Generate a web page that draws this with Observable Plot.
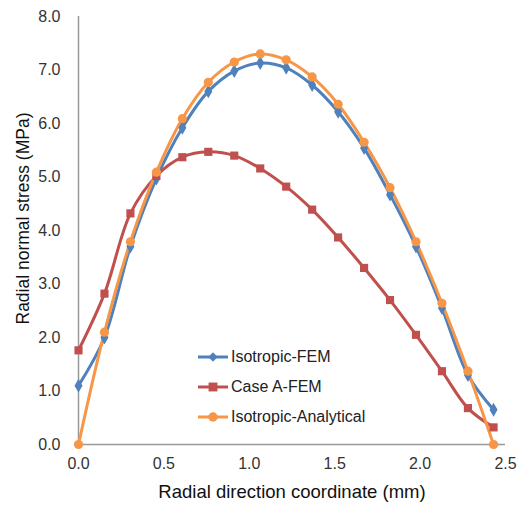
<!DOCTYPE html>
<html><head><meta charset="utf-8">
<script src="https://cdn.jsdelivr.net/npm/d3@7"></script>
<script src="https://cdn.jsdelivr.net/npm/@observablehq/plot@0.6"></script>
<style>
body{margin:0;background:#fff;font-family:"Liberation Sans",Arial,sans-serif;}
#wrap{position:relative;width:520px;height:505px;}
#legend{position:absolute;left:196px;top:342px;font-size:16px;color:#222;}
#legend .row{display:flex;align-items:center;height:30px;}
#legend svg{margin-right:1px;}
</style></head>
<body><div id="wrap"><div id="chart"></div><div id="legend"></div></div>
<script>
const xValues = [0, 0.152, 0.304, 0.456, 0.608, 0.76, 0.912, 1.064, 1.216, 1.368, 1.52, 1.672, 1.824, 1.976, 2.128, 2.28, 2.43];
const isoFEM = [1.1, 2.0, 3.7, 4.97, 5.92, 6.6, 6.98, 7.13, 7.04, 6.72, 6.22, 5.54, 4.67, 3.7, 2.55, 1.3, 0.65];
const caseA = [1.76, 2.82, 4.32, 5.02, 5.37, 5.47, 5.4, 5.16, 4.82, 4.39, 3.87, 3.3, 2.7, 2.05, 1.37, 0.68, 0.32];
const isoAna = [0, 2.1, 3.79, 5.09, 6.09, 6.77, 7.15, 7.3, 7.19, 6.87, 6.36, 5.65, 4.8, 3.79, 2.64, 1.37, 0];
const seriesNames = ["Isotropic-FEM", "Case A-FEM", "Isotropic-Analytical"];
const seriesColors = ["#4F81BD", "#C0504D", "#F79646"];
const seriesSymbols = ["diamond", "square", "circle"];
const seriesR = [4.2, 4.6, 4.6];
const xTicks = [0, 0.5, 1.0, 1.5, 2.0, 2.5];
const yTicks = [0, 1, 2, 3, 4, 5, 6, 7, 8];

const allValues = [isoFEM, caseA, isoAna];
const data = [];
allValues.forEach((vals, s) => vals.forEach((v, i) => data.push({x: xValues[i], y: v, s: seriesNames[s]})));

const lineMarks = [];
seriesNames.forEach((name, s) => {
  const d = data.filter(p => p.s === name);
  lineMarks.push(Plot.line(d, {x: "x", y: "y", stroke: seriesColors[s], strokeWidth: 3, curve: "catmull-rom"}));
});
seriesNames.forEach((name, s) => {
  const d = data.filter(p => p.s === name);
  lineMarks.push(Plot.dot(d, {x: "x", y: "y", fill: seriesColors[s], stroke: "none", symbol: () => seriesSymbols[s], r: seriesR[s]}));
});

const chart = Plot.plot({
  width: 520, height: 505,
  marginLeft: 78, marginRight: 15, marginTop: 16, marginBottom: 61,
  style: {fontFamily: "Liberation Sans, Arial, sans-serif", background: "#fff"},
  x: {domain: [0, 2.5]},
  y: {domain: [0, 8]},
  marks: [
    Plot.ruleX([0], {stroke: "#999", strokeWidth: 1.5}),
    Plot.ruleY([0], {stroke: "#999", strokeWidth: 1.5}),
    ...lineMarks,
    Plot.axisX({ticks: xTicks, tickFormat: d3.format(".1f"), tickSize: 0, tickPadding: 13, fontSize: 16, fill: "#333",
      label: "Radial direction coordinate (mm)", labelAnchor: "center", labelOffset: 53, labelArrow: false}),
    Plot.axisY({ticks: yTicks, tickFormat: d3.format(".1f"), tickSize: 0, tickPadding: 18, fontSize: 16, fill: "#333",
      label: "Radial normal stress (MPa)", labelAnchor: "center", labelOffset: 62, labelArrow: false})
  ]
});
document.getElementById("chart").appendChild(chart);
chart.querySelectorAll("g[aria-label='x-axis label'] text").forEach(t => {
  t.setAttribute("font-size", "18.5"); t.style.fill = "#111";
});
chart.querySelectorAll("g[aria-label='y-axis label'] text").forEach(t => {
  t.setAttribute("font-size", "17.5"); t.setAttribute("dx", "12"); t.style.fill = "#111";
});

const legend = document.getElementById("legend");
seriesNames.forEach((name, s) => {
  const row = document.createElement("div");
  row.className = "row";
  const sw = d3.create("svg").attr("width", 34).attr("height", 14);
  sw.append("line").attr("x1", 2).attr("x2", 32).attr("y1", 7).attr("y2", 7).attr("stroke", seriesColors[s]).attr("stroke-width", 3);
  const sym = {diamond: d3.symbolDiamond2, square: d3.symbolSquare2, circle: d3.symbolCircle}[seriesSymbols[s]];
  const size = seriesSymbols[s] === "square" ? 100 : seriesSymbols[s] === "circle" ? 70 : 55;
  sw.append("path").attr("d", d3.symbol(sym, size)()).attr("transform", "translate(17,7)").attr("fill", seriesColors[s]);
  row.appendChild(sw.node());
  const span = document.createElement("span");
  span.textContent = name;
  row.appendChild(span);
  legend.appendChild(row);
});
</script></body></html>
